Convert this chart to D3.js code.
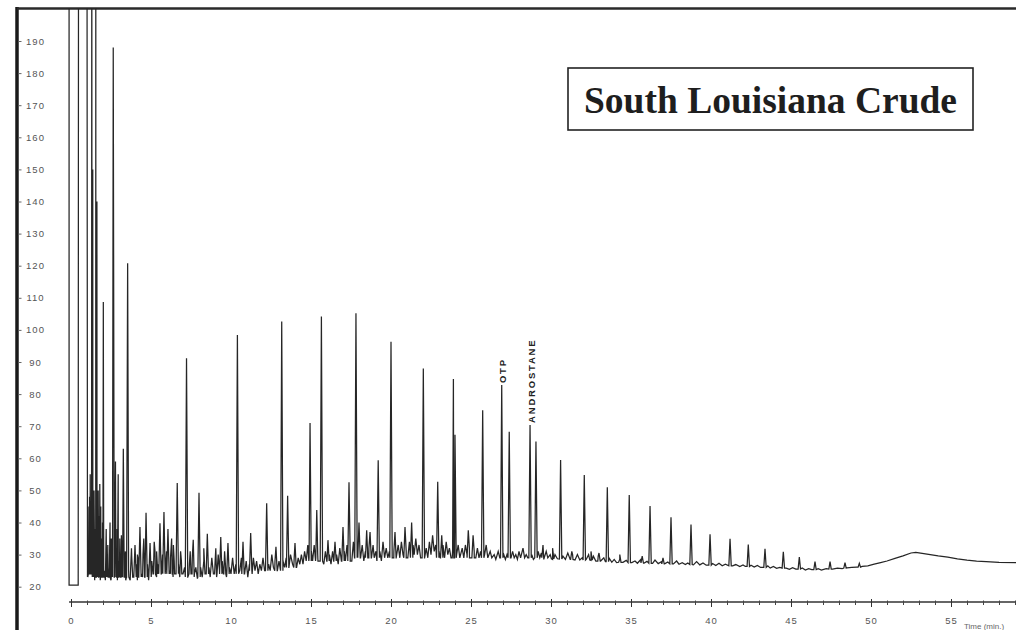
<!DOCTYPE html>
<html>
<head>
<meta charset="utf-8">
<script src="https://cdn.jsdelivr.net/npm/d3@7"></script>
<style>
  html, body { margin: 0; padding: 0; background: #fff; }
  svg { display: block; }
</style>
</head>
<body>
<svg id="chart" width="1016" height="630"></svg>
<script>
// Retention time (min) and detector response ticks
const timeTicks = [0, 5, 10, 15, 20, 25, 30, 35, 40, 45, 50, 55];
const minorTimeTicks = d3.range(0, 60, 1);
const responseTicks = [20, 30, 40, 50, 60, 70, 80, 90, 100, 110, 120, 130, 140, 150, 160, 170, 180, 190];

const chartTitle = "South Louisiana Crude";
const axisTitle = "Time (min.)";

// Labelled compounds: name and retention time of their peak
const markers = [
  { name: "OTP", time: 26.92 },
  { name: "ANDROSTANE", time: 28.69 }
];

// Start of the run: off-scale solvent front
const solventTrace = [
  [-0.12, 230], [-0.12, 20.5], [0.45, 20.5], [0.47, 230], [1.0, 230], [1.03, 23]
];

// Baseline with unresolved noise and the late hump: [time, response]
const baselineTrace = [
  [1.05, 23], [1.1, 28], [1.15, 24], [1.25, 30], [1.33, 23], [1.42, 27], [1.48, 22], [1.65, 26],
  [1.7, 23], [1.78, 29], [1.83, 22], [1.9, 26], [1.96, 23], [2.1, 25], [2.15, 22], [2.25, 30],
  [2.32, 23], [2.4, 26], [2.5, 22], [2.58, 27], [2.7, 23], [2.85, 25], [2.9, 22], [3.0, 28],
  [3.1, 23], [3.18, 30], [3.22, 24], [3.35, 26], [3.42, 22], [3.6, 25], [3.7, 22], [3.8, 29],
  [3.9, 23], [4.08, 27], [4.15, 22], [4.22, 28], [4.4, 24], [4.5, 30], [4.6, 23], [4.78, 27],
  [4.85, 22], [5.05, 28], [5.15, 24], [5.25, 31], [5.35, 23], [5.45, 27], [5.65, 24], [5.72, 30],
  [5.9, 25], [5.97, 31], [6.15, 25], [6.22, 29], [6.38, 23], [6.45, 28], [6.55, 24], [6.72, 27],
  [6.8, 23], [6.9, 28], [7.0, 24], [7.1, 26], [7.3, 23], [7.4, 27], [7.5, 24], [7.58, 29],
  [7.7, 23], [7.8, 26], [7.9, 22.5], [8.1, 26], [8.2, 23], [8.3, 28], [8.45, 24], [8.62, 26],
  [8.7, 23], [8.8, 29], [8.9, 24], [9.0, 27], [9.1, 23], [9.2, 30], [9.28, 25], [9.45, 28],
  [9.55, 24], [9.65, 27], [9.72, 23], [9.9, 26], [10.0, 24], [10.1, 29], [10.2, 24], [10.3, 27],
  [10.55, 25], [10.65, 29], [10.85, 24], [10.95, 28], [11.05, 23], [11.15, 27], [11.32, 24], [11.4, 29],
  [11.5, 25], [11.6, 28], [11.7, 24], [11.8, 27], [11.9, 25], [12.0, 29], [12.1, 25], [12.35, 27],
  [12.45, 25], [12.55, 30], [12.65, 26], [12.75, 28], [12.9, 25], [13.0, 28], [13.1, 26], [13.25, 28],
  [13.35, 26], [13.45, 29], [13.62, 26], [13.72, 30], [13.85, 27], [13.95, 29], [14.1, 26], [14.2, 29],
  [14.3, 27], [14.4, 30], [14.5, 27], [14.6, 31], [14.7, 28], [14.8, 33], [14.88, 29], [15.02, 31],
  [15.1, 28], [15.2, 33], [15.3, 29], [15.42, 30], [15.5, 28], [15.72, 29], [15.8, 27], [15.9, 31],
  [16.0, 28], [16.15, 30], [16.25, 27], [16.35, 31], [16.42, 28], [16.6, 30], [16.7, 27], [16.8, 32],
  [16.9, 28], [17.08, 31], [17.15, 28], [17.25, 33], [17.3, 29], [17.45, 30], [17.55, 28], [17.65, 34],
  [17.72, 29], [17.9, 31], [18.1, 29], [18.2, 33], [18.3, 28], [18.4, 31], [18.55, 29], [18.62, 32],
  [18.78, 29], [18.88, 33], [18.95, 29], [19.05, 31], [19.12, 28], [19.3, 31], [19.4, 28], [19.5, 34],
  [19.6, 29], [19.7, 32], [19.8, 29], [19.9, 31], [20.1, 29], [20.18, 31], [20.32, 29], [20.45, 33],
  [20.55, 29], [20.65, 34], [20.75, 30], [20.95, 31], [21.05, 29], [21.15, 34], [21.22, 30], [21.38, 33],
  [21.45, 30], [21.55, 35], [21.65, 30], [21.75, 33], [21.85, 29], [21.95, 31], [22.1, 29], [22.2, 32],
  [22.3, 29], [22.4, 34], [22.5, 30], [22.6, 36], [22.7, 31], [22.8, 33], [22.85, 30], [23.0, 31],
  [23.08, 29], [23.25, 33], [23.35, 29], [23.45, 34], [23.55, 30], [23.65, 32], [23.75, 29], [23.85, 31],
  [24.1, 30], [24.2, 33], [24.3, 29], [24.45, 32], [24.55, 29], [24.65, 33], [24.75, 30], [24.9, 32],
  [25.0, 29], [25.2, 31], [25.3, 29], [25.4, 32], [25.5, 29], [25.6, 31], [25.85, 30], [25.95, 33],
  [26.05, 29], [26.2, 31], [26.3, 29], [26.45, 30], [26.55, 28.5], [26.7, 31], [26.8, 29], [27.05, 30],
  [27.15, 28.5], [27.25, 30], [27.5, 29], [27.6, 31], [27.7, 29], [27.8, 30], [27.9, 28.5], [28.0, 31],
  [28.1, 29], [28.25, 32], [28.35, 29], [28.45, 30], [28.55, 29], [28.8, 30], [28.9, 28.5], [29.2, 31],
  [29.3, 29], [29.4, 30.5], [29.55, 28.5], [29.7, 31], [29.8, 29], [29.95, 30], [30.1, 28.5], [30.25, 30],
  [30.4, 28.7], [30.75, 29.5], [30.9, 28.5], [31.05, 30.5], [31.2, 28.5], [31.35, 30], [31.5, 28.3], [31.65, 30],
  [31.8, 28.3], [31.95, 29], [32.2, 28.5], [32.35, 30], [32.5, 28.2], [32.65, 29.5], [32.8, 28], [32.95, 29.5],
  [33.1, 28], [33.3, 29], [33.4, 27.8], [33.65, 28.8], [33.8, 27.6], [33.95, 28.5], [34.1, 27.5], [34.3, 28.6],
  [34.5, 27.6], [34.7, 28.2], [35.05, 27.5], [35.25, 28], [35.4, 27.3], [35.6, 28.4], [35.8, 27.3], [36.0, 27.9],
  [36.35, 27.3], [36.5, 28.3], [36.7, 27.2], [36.9, 27.8], [37.1, 27.1], [37.3, 27.7], [37.65, 27.1], [37.85, 28.0],
  [38.0, 27.0], [38.2, 27.5], [38.4, 26.9], [38.55, 27.4], [38.9, 26.8], [39.1, 27.8], [39.3, 26.8], [39.5, 27.4],
  [39.7, 26.7], [40.1, 27.2], [40.3, 26.6], [40.5, 27.3], [40.7, 26.5], [40.9, 27.0], [41.35, 26.5], [41.55, 26.9],
  [41.8, 26.3], [42.0, 26.8], [42.15, 26.3], [42.5, 26.7], [42.7, 26.1], [42.9, 26.6], [43.1, 26.0], [43.55, 26.5],
  [43.7, 25.8], [43.9, 26.3], [44.1, 25.7], [44.3, 26.0], [44.7, 25.8], [44.9, 25.4], [45.1, 25.9], [45.3, 25.5],
  [45.7, 25.8], [45.9, 25.2], [46.1, 25.6], [46.3, 25.3], [46.7, 25.6], [46.9, 25.2], [47.2, 25.6], [47.6, 25.5],
  [47.9, 25.8], [48.2, 25.6], [48.5, 25.9], [48.8, 26.0], [49.1, 26.1], [49.45, 26.3], [49.8, 26.5], [50.2, 27.0],
  [50.6, 27.5], [51.0, 28.0], [51.5, 28.8], [52.0, 29.6], [52.5, 30.5], [52.8, 30.7], [53.2, 30.4], [53.7, 30.0],
  [54.2, 29.6], [54.8, 29.2], [55.4, 28.7], [56.0, 28.3], [56.6, 28.0], [57.2, 27.8], [58.0, 27.6], [59.1, 27.5]
];

// Resolved peaks: [time, apex response, local baseline]
const peaks = [
  [1.12, 45, 24], [1.16, 48, 24], [1.2, 55, 24], [1.24, 40, 24], [1.3, 240, 24], [1.36, 150, 24],
  [1.4, 46, 24], [1.44, 50, 24], [1.48, 38, 23], [1.55, 240, 23], [1.62, 140, 24], [1.66, 44, 23],
  [1.7, 50, 23], [1.75, 42, 23], [1.8, 52, 23], [1.86, 45, 23], [1.92, 35, 23], [1.97, 40, 23],
  [2.02, 108.7, 23], [2.2, 38, 23], [2.3, 33, 23], [2.44, 40, 23], [2.52, 35, 23], [2.64, 188, 23],
  [2.78, 59, 23], [2.88, 38, 23], [2.95, 55, 23], [3.05, 35, 23], [3.15, 36, 23], [3.27, 63, 23],
  [3.4, 31, 23], [3.54, 120.8, 23], [3.78, 32, 23], [4.0, 33, 23], [4.15, 30, 23], [4.31, 38.6, 23],
  [4.55, 35, 23], [4.69, 43, 23], [4.94, 33.6, 23], [5.2, 34, 24], [5.35, 31, 24], [5.56, 39.8, 24],
  [5.81, 43.3, 24], [6.06, 38, 24], [6.29, 35, 24], [6.4, 33, 24], [6.64, 52.3, 24], [6.85, 31, 24],
  [7.22, 91.2, 23], [7.45, 31, 24], [7.64, 34.6, 24], [8.0, 49.3, 23], [8.3, 32, 24], [8.52, 36.5, 24],
  [9.05, 32, 24], [9.36, 35.5, 24], [9.6, 31, 24], [9.81, 33.6, 24],
  [10.4, 98.4, 24], [10.75, 34, 24], [11.23, 36.7, 25], [12.23, 46, 25], [12.81, 32.4, 25],
  [13.17, 102.6, 25], [13.54, 48.3, 26], [14.0, 33.6, 26], [14.94, 71, 28], [15.36, 43.9, 28],
  [15.65, 104.2, 28], [16.06, 34.5, 28], [16.5, 34, 28], [17.0, 38.6, 28], [17.375, 52.5, 28],
  [17.81, 105.2, 29], [18.0, 40, 29], [18.48, 37.6, 29], [18.69, 37, 29], [19.2, 59.4, 29],
  [20.0, 96.3, 29], [20.25, 37, 29], [20.875, 38.6, 29], [21.29, 40, 29], [22.02, 88, 29],
  [22.92, 52.7, 29], [23.17, 36, 29], [23.9, 84.7, 29], [24.0, 67.3, 29], [24.83, 37.6, 29],
  [25.13, 36, 29], [25.73, 75, 29], [26.92, 82.8, 29], [27.39, 68.3, 29], [28.69, 70.4, 29],
  [29.06, 65.2, 29], [29.5, 33, 29], [30.1, 32, 28.7], [30.6, 59.5, 28.6], [31.3, 31, 28.5],
  [32.08, 54.8, 28.3], [32.5, 31, 28.3], [33.0, 30.5, 28], [33.52, 51, 27.8], [34.3, 30, 27.6],
  [34.89, 48.6, 27.5], [35.7, 29.5, 27.4], [36.19, 45.1, 27.3], [37.0, 29, 27.1], [37.5, 41.6, 27.1],
  [38.75, 39.4, 26.9], [39.94, 36.3, 26.7], [41.19, 34.9, 26.5], [42.33, 33.1, 26.3], [43.375, 31.8, 26.0],
  [44.52, 30.9, 25.8], [45.52, 29.2, 25.5], [46.5, 27.8, 25.3], [47.44, 27.8, 25.5], [48.375, 27.5, 25.8],
  [49.27, 27.3, 26.1]
];

const svg = d3.select("#chart");
const W = 1016, H = 630;

const x = d3.scaleLinear().domain([0, 55]).range([71, 951]);
const y = d3.scaleLinear().domain([20, 190]).range([586.7, 41]);

const frameLeft = 17, frameTop = 8.5, axisY = 602;
const peakHalfWidth = 0.075;
const ink = "#262626";

// outer frame: heavy left rule and top rule
svg.append("line")
  .attr("x1", frameLeft).attr("x2", frameLeft)
  .attr("y1", frameTop - 1.5).attr("y2", H)
  .attr("stroke", "#1a1a1a").attr("stroke-width", 3.5);
svg.append("line")
  .attr("x1", frameLeft).attr("x2", W)
  .attr("y1", frameTop).attr("y2", frameTop)
  .attr("stroke", "#2a2a2a").attr("stroke-width", 2.5);

// response axis on the inside of the left rule
const yAxis = svg.append("g")
  .attr("transform", `translate(${frameLeft + 1.5},0)`)
  .call(d3.axisRight(y).tickValues(responseTicks).tickSize(3).tickFormat(d3.format("d")));
yAxis.select(".domain").remove();
yAxis.selectAll(".tick line").attr("stroke", "#666").attr("stroke-width", 1);
yAxis.selectAll(".tick text")
  .attr("x", 17).attr("text-anchor", "middle")
  .attr("font-family", "Liberation Sans, Arial, sans-serif")
  .attr("font-size", 9.5).attr("letter-spacing", 1)
  .attr("fill", "#555");

// time axis
const xAxisMinor = svg.append("g")
  .attr("transform", `translate(0,${axisY})`)
  .call(d3.axisBottom(x).tickValues(minorTimeTicks).tickSize(3).tickFormat(""));
xAxisMinor.select(".domain")
  .attr("d", `M${x(-0.12)},0H${W}`)
  .attr("stroke", "#333").attr("stroke-width", 1.3);
xAxisMinor.selectAll(".tick line").attr("stroke", "#444").attr("y1", -1.5);

const xAxis = svg.append("g")
  .attr("transform", `translate(0,${axisY})`)
  .call(d3.axisBottom(x).tickValues(timeTicks).tickSize(5).tickPadding(10).tickFormat(d3.format("d")));
xAxis.select(".domain").remove();
xAxis.selectAll(".tick line").attr("stroke", "#333").attr("y1", -3);
xAxis.selectAll(".tick text")
  .attr("font-family", "Liberation Sans, Arial, sans-serif")
  .attr("font-size", 9.5).attr("letter-spacing", 1)
  .attr("fill", "#555");

svg.append("text")
  .attr("x", 964).attr("y", 629)
  .attr("font-family", "Liberation Sans, Arial, sans-serif")
  .attr("font-size", 8).attr("fill", "#666")
  .text(axisTitle);

// chromatogram trace
svg.append("clipPath").attr("id", "plotClip")
  .append("rect")
  .attr("x", frameLeft + 2).attr("y", frameTop)
  .attr("width", W - frameLeft - 2).attr("height", axisY - frameTop);

const peakVertices = peaks.flatMap(([t, apex, base]) => [
  [t - peakHalfWidth, base], [t, apex], [t + peakHalfWidth, base]
]);
const trace = solventTrace.concat(baselineTrace, peakVertices)
  .map((d, i) => ({ t: d[0], v: d[1], i }))
  .sort((a, b) => a.t - b.t || a.i - b.i);

svg.append("path")
  .datum(trace)
  .attr("clip-path", "url(#plotClip)")
  .attr("fill", "none")
  .attr("stroke", ink)
  .attr("stroke-width", 1.25)
  .attr("stroke-linejoin", "miter")
  .attr("d", d3.line().x(d => x(d.t)).y(d => y(d.v)));

// compound labels standing on their peaks
markers.forEach(m => {
  const pk = peaks.find(p => p[0] === m.time);
  svg.append("text")
    .attr("transform", `translate(${x(m.time) + 1},${y(pk[1]) - 2}) rotate(-90)`)
    .attr("dominant-baseline", "central")
    .attr("font-family", "Liberation Sans, Arial, sans-serif")
    .attr("font-weight", "bold")
    .attr("font-size", 9.5).attr("letter-spacing", 1.8)
    .attr("fill", "#222")
    .text(m.name);
});

// title box
const tb = { x: 568, y: 68, w: 405, h: 62 };
svg.append("rect")
  .attr("x", tb.x).attr("y", tb.y).attr("width", tb.w).attr("height", tb.h)
  .attr("fill", "#fff").attr("stroke", "#222").attr("stroke-width", 1.6);
svg.append("text")
  .attr("x", tb.x + tb.w / 2).attr("y", tb.y + 45)
  .attr("text-anchor", "middle")
  .attr("font-family", "Liberation Serif, Times New Roman, serif")
  .attr("font-weight", "bold")
  .attr("font-size", 37.5)
  .attr("fill", "#1e1e1e")
  .text(chartTitle);
</script>
</body>
</html>
